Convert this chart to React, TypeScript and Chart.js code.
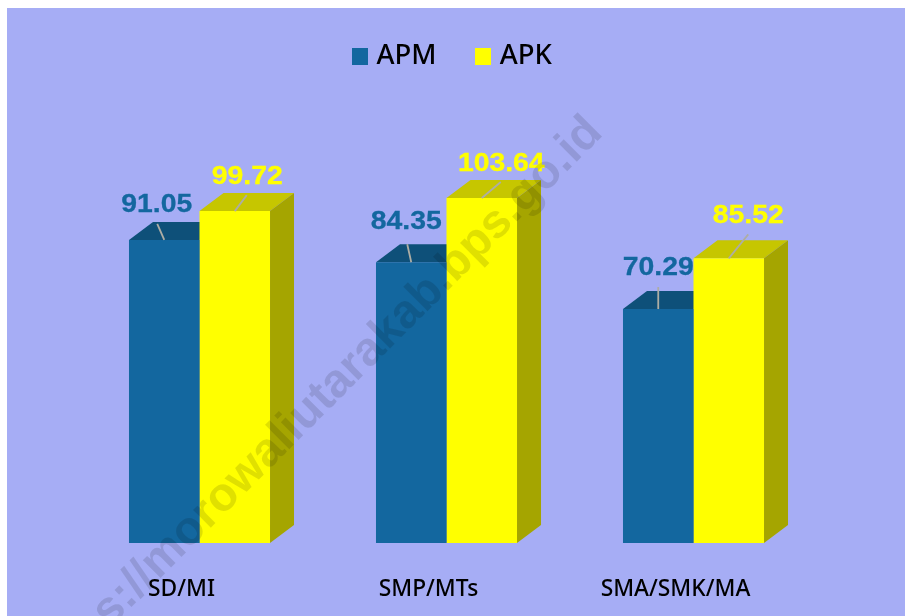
import React, { useEffect, useRef } from "react";
import { Chart, registerables } from "chart.js";

Chart.register(...registerables);

const categories = ["SD/MI", "SMP/MTs", "SMA/SMK/MA"];
const apm = [91.05, 84.35, 70.29];
const apk = [99.72, 103.64, 85.52];
const seriesNames = ["APM", "APK"];
const watermark = "https://morowaliutarakab.bps.go.id";

const BG = "#A6ADF5";
const FRONT = ["#13679F", "#FFFF00"];
const TOP = ["#0E5079", "#C6C600"];
const SIDE = ["#0C4A70", "#A5A500"];
const DEPTH_X = 24;
const DEPTH_Y = 18;
// data label offsets from the middle of each bar's front top edge [label dx, dy, leader end dx, dy]
const LABEL_OFFSETS = [
  [[-7.5, -35, -7, -16], [-5, -40.5, -4, -18], [0, -41, 0, -22]],
  [[12.5, -34, 12, -16], [19.5, -34, 19, -16], [19.5, -43, 19.5, -24]],
];

function squareIcon(color: string) {
  const c = document.createElement("canvas");
  c.width = 16;
  c.height = 17;
  const x = c.getContext("2d")!;
  x.fillStyle = color;
  x.fillRect(0, 0, 16, 17);
  return c;
}

const faces3d = {
  id: "faces3d",
  beforeDatasetsDraw(chart: any) {
    const ctx = chart.ctx;
    [0, 1].forEach((d) => {
      chart.getDatasetMeta(d).data.forEach((bar: any) => {
        const l = bar.x - bar.width / 2;
        const r = bar.x + bar.width / 2;
        const t = bar.y;
        const b = bar.base;
        ctx.fillStyle = TOP[d];
        ctx.beginPath();
        ctx.moveTo(l, t);
        ctx.lineTo(l + DEPTH_X, t - DEPTH_Y);
        ctx.lineTo(r + DEPTH_X, t - DEPTH_Y);
        ctx.lineTo(r, t);
        ctx.closePath();
        ctx.fill();
        ctx.fillStyle = SIDE[d];
        ctx.beginPath();
        ctx.moveTo(r, t);
        ctx.lineTo(r + DEPTH_X, t - DEPTH_Y);
        ctx.lineTo(r + DEPTH_X, b - DEPTH_Y);
        ctx.lineTo(r, b);
        ctx.closePath();
        ctx.fill();
      });
    });
  },
};

const overlays = {
  id: "overlays",
  afterLayout(chart: any) {
    const lg = chart.legend;
    lg.left += 8.25;
    lg.right += 8.25;
    lg.top -= 10;
    lg.bottom -= 10;
  },
  afterDraw(chart: any) {
    const ctx = chart.ctx;
    [0, 1].forEach((d) => {
      const values = d === 0 ? apm : apk;
      chart.getDatasetMeta(d).data.forEach((bar: any, i: number) => {
        const [lx, ly, ex, ey] = LABEL_OFFSETS[d][i];
        ctx.save();
        ctx.strokeStyle = "#ADADA4";
        ctx.lineWidth = 1.8;
        ctx.beginPath();
        ctx.moveTo(bar.x, bar.y);
        ctx.lineTo(bar.x + ex, bar.y + ey);
        ctx.stroke();
        ctx.translate(bar.x + lx, bar.y + ly);
        ctx.scale(1.07, 1);
        ctx.font = "bold 26.5px 'Liberation Sans'";
        ctx.textAlign = "center";
        ctx.textBaseline = "middle";
        ctx.fillStyle = FRONT[d];
        ctx.strokeStyle = FRONT[d];
        ctx.lineWidth = 0.3;
        ctx.fillText(values[i].toFixed(2), 0, 0);
        ctx.strokeText(values[i].toFixed(2), 0, 0);
        ctx.restore();
      });
    });
    ctx.save();
    ctx.translate(309, 396);
    ctx.rotate(-Math.PI / 4);
    ctx.font = "bold 47.5px 'Liberation Sans'";
    ctx.textAlign = "center";
    ctx.textBaseline = "middle";
    ctx.fillStyle = "rgba(0,0,0,0.12)";
    ctx.fillText(watermark, 0, 0);
    ctx.restore();
  },
};

export default function App() {
  const ref = useRef<HTMLCanvasElement>(null);
  useEffect(() => {
    const chart = new Chart(ref.current!, {
      type: "bar",
      data: {
        labels: categories,
        datasets: [
          { label: seriesNames[0], data: apm, backgroundColor: FRONT[0], categoryPercentage: 0.571, barPercentage: 1 },
          { label: seriesNames[1], data: apk, backgroundColor: FRONT[1], categoryPercentage: 0.571, barPercentage: 1 },
        ],
      },
      options: {
        responsive: false,
        animation: false,
        devicePixelRatio: 1,
        layout: { padding: { left: 69, right: 88, top: 0, bottom: 0 } },
        scales: {
          x: {
            grid: { display: false },
            border: { display: false },
            afterFit: (s: any) => {
              s.height = 73;
            },
            ticks: {
              color: "#000",
              font: { family: "'Noto Sans'", size: 22.8, weight: "500" },
              labelOffset: -18,
              padding: 25,
              maxRotation: 0,
              autoSkip: false,
            },
          },
          y: { display: false, min: 0, max: 136.1 },
        },
        plugins: {
          tooltip: { enabled: false },
          legend: {
            position: "top",
            labels: {
              usePointStyle: true,
              pointStyleWidth: 5,
              boxHeight: 16,
              padding: 44.5,
              color: "#000",
              font: { family: "'Noto Sans'", size: 27.5, weight: "500" },
              generateLabels: () =>
                seriesNames.map((n, i) => ({
                  text: n,
                  fillStyle: FRONT[i],
                  strokeStyle: FRONT[i],
                  lineWidth: 0,
                  pointStyle: squareIcon(FRONT[i]),
                  datasetIndex: i,
                  hidden: false,
                })),
            },
          },
        },
      },
      plugins: [faces3d, overlays],
    } as any);
    return () => chart.destroy();
  }, []);
  return (
    <canvas
      ref={ref}
      width={898}
      height={608}
      style={{ position: "absolute", left: 7, top: 8, background: BG, display: "block" }}
    />
  );
}
